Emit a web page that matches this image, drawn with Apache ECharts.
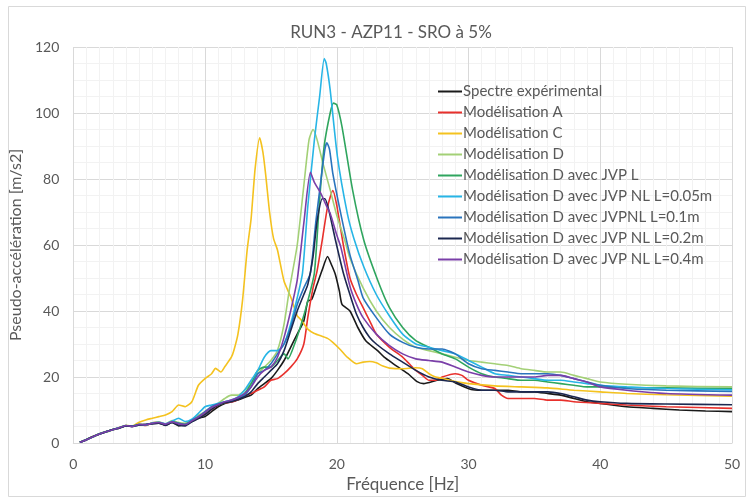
<!DOCTYPE html>
<html><head><meta charset="utf-8">
<script src="https://cdn.jsdelivr.net/npm/echarts@6/dist/echarts.min.js"></script>
<style>html,body{margin:0;padding:0;background:#fff}#c{width:751px;height:499px}</style>
</head><body><div id="c"></div>
<script>
const seriesNames = ["Spectre expérimental","Modélisation A","Modélisation C","Modélisation D","Modélisation D avec JVP L","Modélisation D avec JVP NL L=0.05m","Modélisation D avec JVPNL L=0.1m","Modélisation D avec JVP NL L=0.2m","Modélisation D avec JVP NL L=0.4m"];
const xTicks = [0,10,20,30,40,50];
const yTicks = [0,20,40,60,80,100,120];

const expData = [[0.5,0.2],[1,1.1],[1.5,2.0],[2,2.8],[2.5,3.4],[3,4.1],[3.5,4.5],[4,5.2],[4.5,5.1],[5,5.5],[5.5,5.6],[6,5.9],[6.5,6.0],[7,5.5],[7.5,6.2],[8,5.2],[8.5,5.8],[9,6.5],[9.5,7.5],[10,8.0],[10.5,9.5],[11,11.0],[11.5,12.0],[12,12.5],[12.5,13.0],[13,13.8],[13.5,14.5],[14,16.5],[14.5,18],[15,19.5],[15.5,22],[16,25],[16.5,29],[17,33],[17.5,37],[17.8,43],[18.1,43.5],[18.5,48],[18.9,52.5],[19.3,56.5],[19.6,54],[19.9,51],[20.2,46],[20.4,42],[21,40],[21.6,35],[22.2,31],[23.1,28],[23.6,26],[24.3,24],[25.4,21],[26.1,18.6],[26.6,18],[27.6,19],[28.4,19.5],[29.1,18],[30.2,16.2],[31,16],[32,16],[33,16],[34,15.5],[35,15.5],[36,15],[37,14.5],[38,13.5],[39,12.5],[40,12],[42,11],[44,10.5],[46,10],[48,9.7],[50,9.5]];

const modA = [[0.5,0.2],[1,1.0],[1.5,1.9],[2,2.7],[2.5,3.5],[3,4.0],[3.5,4.7],[4,5.3],[4.5,5.0],[5,5.7],[5.5,5.3],[6,6.1],[6.5,6.3],[7,5.4],[7.5,6.5],[8,5.9],[8.5,5.5],[9,6.8],[9.5,7.6],[10,8.8],[10.5,10.2],[11,11.5],[11.5,12.2],[12,12.4],[12.5,13.2],[13,14.5],[13.5,15],[14,16],[14.5,17],[15,19],[15.5,19.5],[16,21],[16.5,23],[17,25.5],[17.5,30],[17.8,38],[18.2,47],[18.5,52],[18.9,61.5],[19.3,71.5],[19.7,76.5],[20,72],[20.5,60],[21,50],[21.5,45],[22,41],[22.5,37],[23,33],[24,29],[25,26],[25.5,24],[26,22],[26.5,20.5],[27,19],[27.5,19],[28,20],[29,21],[29.5,20.5],[30,19],[31,17.5],[32,16.5],[32.5,14.5],[33,13.5],[34,13.5],[35,13.5],[36,13],[37,13],[38,12.5],[40,12],[42,11.5],[45,11],[50,10.5]];

const modC = [[0.5,0.2],[1,1.0],[1.5,2.0],[2,2.8],[2.5,3.4],[3,4.1],[3.5,4.6],[4,5.3],[4.5,5.2],[5,6.3],[5.5,7.0],[6,7.5],[6.5,8.0],[7,8.5],[7.5,9.5],[8,11.5],[8.5,11],[9,12.5],[9.5,17.5],[10,19.5],[10.5,21],[10.8,22.6],[11.2,21.5],[11.5,23.1],[12,26],[12.2,28.2],[12.5,33],[12.85,43.3],[13.2,58.5],[13.5,68],[13.8,83],[14.15,92.5],[14.4,88],[14.6,81.5],[14.9,70],[15.2,62],[15.5,58.5],[16,49],[16.5,44.3],[17,38.5],[17.3,37.3],[17.8,34.5],[18.3,33.2],[19.3,31.7],[19.7,30.5],[20.3,28.2],[20.8,26],[21.5,24],[22,24.5],[22.5,24.7],[23,24.3],[23.5,23.3],[24,22.7],[25,22.5],[26,22.8],[26.5,22.5],[27,21],[27.5,20],[28,19.6],[29,18.6],[30,18],[32,17.3],[34,17],[36,16.7],[38,16],[40,15.5],[42,15],[45,14.6],[50,14.2]];

const modD = [[0.5,0.2],[1,1.0],[1.5,1.8],[2,2.7],[2.5,3.3],[3,4.0],[3.5,4.7],[4,5.4],[4.5,5.1],[5,5.6],[5.5,5.5],[6,6.1],[6.5,6.4],[7,5.8],[7.5,6.8],[8,6.2],[8.5,6.0],[9,7.0],[9.5,8.4],[10,9.5],[10.5,11],[11,12],[11.5,13.5],[12,14.5],[12.5,14.5],[13,16],[13.5,18],[14,21],[14.5,23],[15,25],[15.5,28],[16,36],[16.4,46.4],[17,60],[17.5,78],[17.9,92],[18.2,95],[18.5,92],[19,84],[19.5,76.7],[20,69],[20.6,61.5],[21,56],[22,47],[23,40],[24,35],[25,31.5],[26,29],[27,28],[28,27],[29,26],[30,25],[31,24.5],[32,24],[33,23.5],[34,22.5],[35,22],[36,21.5],[37,21.5],[38,20.5],[39,19.5],[40,18.5],[42,17.8],[45,17.3],[50,17]];

const modDJvpL = [[0.5,0.2],[1,1.1],[1.5,1.9],[2,2.8],[2.5,3.5],[3,4.0],[3.5,4.6],[4,5.2],[4.5,5.1],[5,5.7],[5.5,5.4],[6,6.0],[6.5,6.1],[7,5.7],[7.5,6.5],[8,6.0],[8.5,5.7],[9,6.8],[9.5,7.9],[10,9.2],[10.5,10.8],[11,11.6],[11.5,12.3],[12,12.8],[12.5,13.6],[13,15],[13.5,18],[14,22],[14.5,23],[15,23],[15.5,25],[16,27],[16.3,25.5],[16.8,30],[17.3,36],[17.8,43],[18.3,51.5],[18.66,71.6],[19.04,89.8],[19.5,100],[19.75,103],[20,102.5],[20.4,95.8],[21.2,76.7],[22.05,61.5],[23.1,49.4],[24,41],[25,35],[26,31],[27,29],[28,27],[29,25.5],[30,23],[31,21],[32,20],[33,19.5],[34,19],[35,19],[36,18.5],[37,18],[38,17.5],[39,17],[40,17],[42,16.8],[45,16.7],[50,16.5]];

const modDNL005 = [[0.5,0.2],[1,1.0],[1.5,1.9],[2,2.7],[2.5,3.4],[3,4.1],[3.5,4.6],[4,5.3],[4.5,5.0],[5,5.6],[5.5,5.5],[6,6.0],[6.5,6.3],[7,5.8],[7.5,6.6],[8,7.5],[8.5,6.5],[9,7.2],[9.5,9.0],[10,11],[10.5,11.5],[11,12],[11.5,12.5],[12,13],[12.5,14],[13,16],[13.5,19],[14,22],[14.5,26],[15,28],[15.5,28],[16,30],[16.5,36],[17,44],[17.4,51.5],[17.8,71.6],[18.3,91.8],[18.7,105],[19.05,116.5],[19.2,115],[19.5,107],[20.05,86.8],[20.8,69.6],[21.3,62],[22.05,53.4],[23,45],[24,38.5],[25,33],[26,30],[27,29],[28,28],[29,27],[30,25],[31,23],[32,21],[33,20.5],[34,20],[35,19.5],[36,19],[37,19],[38,18.5],[39,18],[40,17.5],[42,17],[45,16.5],[50,16.1]];

const modDNL01 = [[0.5,0.2],[1,1.0],[1.5,1.9],[2,2.8],[2.5,3.4],[3,4.0],[3.5,4.6],[4,5.2],[4.5,5.1],[5,5.5],[5.5,5.6],[6,6.0],[6.5,6.1],[7,5.6],[7.5,6.3],[8,6.0],[8.5,5.6],[9,6.9],[9.5,8.0],[10,9.5],[10.5,11],[11,11.8],[11.5,12.4],[12,12.8],[12.5,13.5],[13,14.5],[13.5,17],[14,21],[14.5,22],[15,24],[15.5,27],[16,30],[16.5,35],[17,42],[17.5,47],[18,51.5],[18.4,66.6],[18.8,79.7],[19.1,89],[19.25,91],[19.45,89],[19.7,81.7],[20.3,69.6],[21,57],[21.6,49.4],[22,44],[23,38],[24,33],[25,30.5],[26,29],[27,28.5],[28,28.5],[29,27],[30,24],[31,22.5],[32,22],[33,21.5],[34,21],[35,21],[36,21],[37,20.5],[38,19.5],[39,18.5],[40,17.5],[42,16.5],[45,16],[50,15.6]];

const modDNL02 = [[0.5,0.2],[1,1.0],[1.5,2.0],[2,2.7],[2.5,3.4],[3,4.1],[3.5,4.5],[4,5.2],[4.5,5.0],[5,5.5],[5.5,5.6],[6,5.8],[6.5,6.0],[7,5.3],[7.5,6.2],[8,5.4],[8.5,5.2],[9,6.4],[9.5,7.4],[10,8.6],[10.5,10.2],[11,11.5],[11.5,12.2],[12,12.5],[12.5,13.2],[13,14],[13.5,15.5],[14,18],[14.5,20],[15,22],[15.5,24],[16,28],[16.5,34],[17,40],[17.5,45],[17.8,48],[18.2,56.5],[18.5,67],[18.9,74],[19.1,74],[19.4,70.5],[19.9,61.5],[20.5,51.5],[21,45],[21.5,39],[22,35],[22.5,32],[23,30],[24,27],[25,24.5],[26,22],[27,20],[28,19],[29,18.5],[30,17],[31,16],[32,16],[33,15.5],[34,15.5],[35,15.5],[36,15.5],[37,15],[38,14],[39,13],[40,12.5],[42,12],[45,11.8],[50,11.6]];

const modDNL04 = [[0.5,0.2],[1,1.0],[1.5,1.9],[2,2.7],[2.5,3.4],[3,4.0],[3.5,4.6],[4,5.3],[4.5,5.0],[5,5.6],[5.5,5.5],[6,6.0],[6.5,6.2],[7,5.7],[7.5,6.4],[8,5.8],[8.5,5.6],[9,6.7],[9.5,7.9],[10,9.3],[10.5,10.8],[11,11.7],[11.5,12.5],[12,13],[12.5,13.8],[13,15],[13.5,17],[14,20],[14.5,22],[15,23],[15.5,26],[16,32],[16.5,40],[17,49.4],[17.5,66.6],[18,82],[18.3,79],[18.8,75.6],[19.2,72],[19.5,69.6],[20,63],[20.3,59.5],[21,47.5],[21.5,42],[22,38],[23,33],[24,29.5],[25,27],[26,25.5],[27,25],[28,24.5],[29,23],[30,21.5],[31,20.5],[32,20],[33,20],[34,20],[35,20],[36,20.5],[37,20.5],[38,19.5],[39,18.5],[40,17],[42,16],[45,15],[50,14.5]];

const seriesData = [expData, modA, modC, modD, modDJvpL, modDNL005, modDNL01, modDNL02, modDNL04];
const colors = ["#1a1a1a","#e8302c","#f4c21f","#a3d076","#2fa55e","#27b5e6","#2a74bd","#1c2850","#7a3fa8"];

const FONT = "Lato";
const TXT = "#595959";
const chart = echarts.init(document.getElementById('c'));
chart.setOption({
  animation: false,
  backgroundColor: '#fff',
  color: colors,
  title: {
    text: 'RUN3 - AZP11 - SRO à 5%',
    left: 386, textAlign: 'center', top: 19,
    textStyle: {fontFamily: FONT, fontSize: 17, fontWeight: 'normal', color: TXT}
  },
  graphic: [{type: 'rect', shape: {x: 8.5, y: 6.5, width: 737, height: 490}, style: {fill: 'none', stroke: '#d9d9d9', lineWidth: 1}, silent: true, z: -1}],
  legend: {
    orient: 'vertical', left: 433, top: 79,
    icon: 'rect', itemWidth: 24, itemHeight: 2, itemGap: 6,
    data: seriesNames,
    textStyle: {fontFamily: FONT, fontSize: 15, color: TXT, padding: [0,0,0,-4]}
  },
  grid: {left: 72, right: 19, top: 47, bottom: 56, containLabel: false},
  xAxis: {
    type: 'value', min: 0, max: 50, interval: 10,
    name: 'Fréquence [Hz]', nameLocation: 'middle', nameGap: 33,
    nameTextStyle: {fontFamily: FONT, fontSize: 17, color: TXT},
    axisLine: {show: true, lineStyle: {color: '#d9d9d9'}},
    axisTick: {show: false},
    axisLabel: {fontFamily: FONT, fontSize: 14, color: TXT, margin: 14,
      formatter: v => xTicks.includes(v) ? String(v) : ''},
    splitLine: {show: true, lineStyle: {color: '#d9d9d9'}},
    minorTick: {show: false, splitNumber: 10},
    minorSplitLine: {show: true, lineStyle: {color: '#f2f2f2'}}
  },
  yAxis: {
    type: 'value', min: 0, max: 120, interval: 20,
    name: 'Pseudo-accélération [m/s2]', nameLocation: 'middle', nameGap: 42,
    nameTextStyle: {fontFamily: FONT, fontSize: 16, color: TXT},
    axisLine: {show: false}, axisTick: {show: false},
    axisLabel: {fontFamily: FONT, fontSize: 14, color: TXT, margin: 14,
      formatter: v => yTicks.includes(v) ? String(v) : ''},
    splitLine: {show: true, lineStyle: {color: '#d9d9d9'}},
    minorTick: {show: false, splitNumber: 4},
    minorSplitLine: {show: true, lineStyle: {color: '#f2f2f2'}}
  },
  series: seriesNames.map((n, i) => ({
    name: n, type: 'line', data: seriesData[i], showSymbol: false, symbol: 'none',
    smooth: 0.2, lineStyle: {width: 1.6, color: colors[i]}, itemStyle: {color: colors[i]}
  }))
});
</script></body></html>
